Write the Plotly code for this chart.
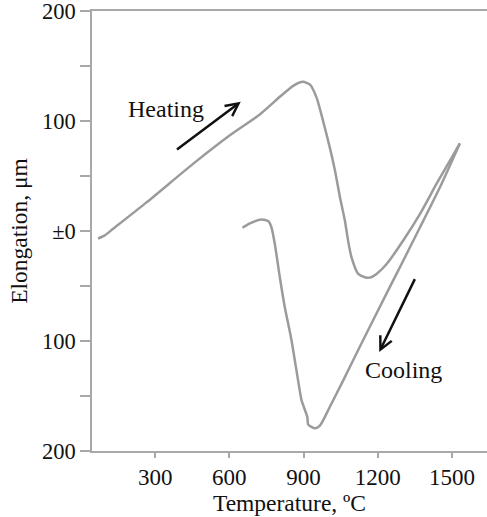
import plotly.graph_objects as go

# Heating curve (temperature °C, elongation µm)
heat_t = [69, 96, 130, 265, 453, 602, 723, 804, 858, 898, 926, 953, 979, 1006,
          1027, 1047, 1067, 1081, 1094, 1121, 1148, 1168, 1195, 1236, 1303,
          1371, 1438, 1492, 1532]
heat_e = [-7, -4, 2, 26, 61, 87, 106, 122, 132, 135.6, 133, 121, 100, 76,
          55, 31, 9.5, -10, -24, -39, -42, -42.4, -39, -30, -8.6,
          15.6, 43, 64, 79.6]

# Cooling curve
cool_t = [1532, 1452, 1371, 1303, 1242, 1128, 1060, 1006, 966, 946,
          919, 915, 892, 878, 851, 824, 804, 784, 770, 757, 730, 683, 653]
cool_e = [79.6, 40, 3.4, -27, -54, -105, -136, -160, -177, -179.4,
          -176, -169, -154, -136, -99, -69, -42, -12, 3.4, 9, 10.4, 7, 3]

x_ticks = [300, 600, 900, 1200, 1500]
y_ticks = [200, 150, 100, 50, 0, -50, -100, -150, -200]
y_text = ["200", "", "100", "", "±0", "", "100", "", "200"]

FONT = "Liberation Serif, Times New Roman, serif"
LINE = "#9b9b9b"
AX = "#a8a8a8"
TXT = "#111111"

fig = go.Figure()
for xs, ys in ((heat_t, heat_e), (cool_t, cool_e)):
    fig.add_trace(go.Scatter(x=xs, y=ys, mode="lines",
                             line=dict(color=LINE, width=2.5, shape="spline", smoothing=0.6),
                             hoverinfo="skip", showlegend=False))

fig.add_annotation(x=646, y=117.5, ax=382, ay=73, xref="x", yref="y",
                   axref="x", ayref="y", showarrow=True, arrowhead=5,
                   arrowsize=1, arrowwidth=2.5, arrowcolor=TXT, text="")
fig.add_annotation(x=1206, y=-110, ax=1353, ay=-42.4, xref="x", yref="y",
                   axref="x", ayref="y", showarrow=True, arrowhead=5,
                   arrowsize=1, arrowwidth=2.5, arrowcolor=TXT, text="")
fig.add_annotation(x=343, y=111, xref="x", yref="y", text="Heating",
                   showarrow=False, font=dict(family=FONT, size=24, color=TXT))
fig.add_annotation(x=1304, y=-126.5, xref="x", yref="y", text="Cooling",
                   showarrow=False, font=dict(family=FONT, size=24, color=TXT))

fig.update_layout(
    width=487, height=517,
    margin=dict(l=92, r=0, t=11, b=66),
    paper_bgcolor="white", plot_bgcolor="white",
    font=dict(family=FONT, size=23, color=TXT),
    xaxis=dict(range=[44.5, 1641.8], tickvals=x_ticks,
               ticks="outside", ticklen=5, tickcolor=AX, tickwidth=1.5,
               showline=True, linecolor=AX, linewidth=1.5, mirror=True,
               showgrid=False, zeroline=False, automargin=False,
               title=dict(text="Temperature, ºC", standoff=4,
                          font=dict(family=FONT, size=23.5, color=TXT)),
               tickfont=dict(family=FONT, size=23, color=TXT)),
    yaxis=dict(range=[-200, 200], tickvals=y_ticks, ticktext=y_text,
               ticks="outside", ticklen=10, tickcolor=AX, tickwidth=1.5,
               showline=True, linecolor=AX, linewidth=1.5,
               showgrid=False, zeroline=False, automargin=False,
               ticklabeloverflow="allow",
               title=dict(text="Elongation, μm", standoff=8,
                          font=dict(family=FONT, size=23.5, color=TXT)),
               tickfont=dict(family=FONT, size=22.5, color=TXT)),
)

fig.write_html("out.html", config={"displayModeBar": False},
               post_script="document.body.style.margin='0';document.body.style.padding='0';")
